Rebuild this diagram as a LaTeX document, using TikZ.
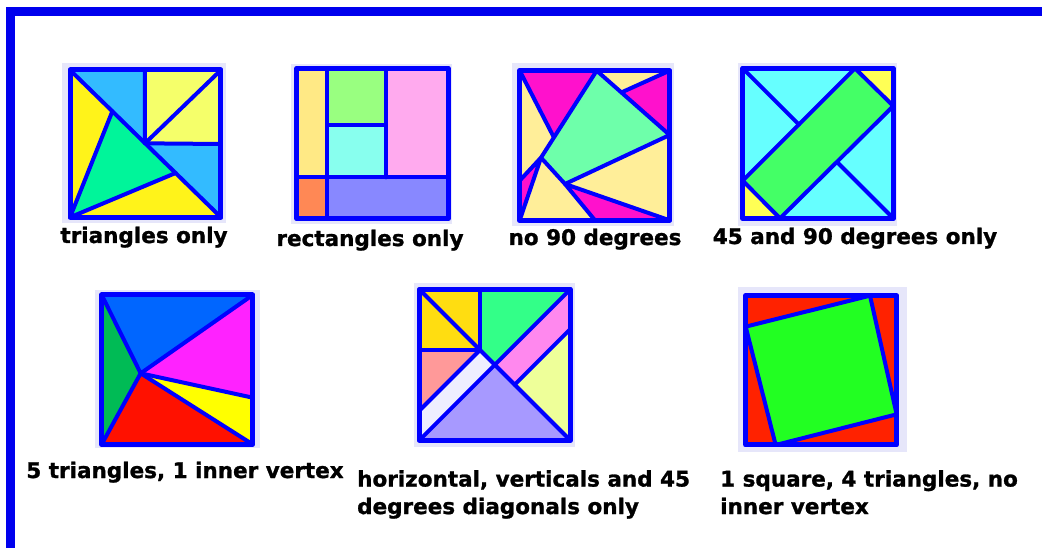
\documentclass[tikz,border=0pt]{standalone}
\usepackage{fontspec}
\setmainfont{DejaVu Sans}
\newfontfamily\labfont{DejaVu Sans}[BoldFeatures={FakeBold=1.2}]
\definecolor{framebar}{HTML}{0000EE}
\definecolor{sqblue}{HTML}{0000FF}
\definecolor{lav}{HTML}{E6E6FA}
% square 1
\definecolor{lblue}{HTML}{33BBFF}
\definecolor{pyellow}{HTML}{F5FF6A}
\definecolor{yelA}{HTML}{FFF31A}
\definecolor{grnA}{HTML}{00F59A}
% square 2
\definecolor{rYel}{HTML}{FFE985}
\definecolor{rGrn}{HTML}{99FF80}
\definecolor{rPink}{HTML}{FFAAEE}
\definecolor{rCyan}{HTML}{88FFEE}
\definecolor{rOrange}{HTML}{FF8855}
\definecolor{rPeri}{HTML}{8888FF}
% square 3
\definecolor{nMag}{HTML}{FF11CC}
\definecolor{nYel}{HTML}{FFEE99}
\definecolor{nGrn}{HTML}{6EFFAA}
% square 4
\definecolor{fCyan}{HTML}{66FFFF}
\definecolor{fGrn}{HTML}{44FF66}
\definecolor{fYel}{HTML}{FFFF55}
% square 5
\definecolor{tBlue}{HTML}{0066FF}
\definecolor{tGrn}{HTML}{00BB55}
\definecolor{tMag}{HTML}{FF22FF}
\definecolor{tYel}{HTML}{FFFF00}
\definecolor{tRed}{HTML}{FF1100}
% square 6
\definecolor{hGold}{HTML}{FFDD11}
\definecolor{hGrn}{HTML}{33FF88}
\definecolor{hSalmon}{HTML}{FF9999}
\definecolor{hWhite}{HTML}{EEEEFF}
\definecolor{hPurple}{HTML}{A799FF}
\definecolor{hPink}{HTML}{FF88EE}
\definecolor{hLyg}{HTML}{EEFF99}
% square 7
\definecolor{qRed}{HTML}{FF2200}
\definecolor{qGrn}{HTML}{22FF22}
\begin{document}
\begin{tikzpicture}[x=1pt,y=-1pt,line join=round,line cap=round,
  edge/.style={draw=sqblue,line width=4pt},
  frame/.style={draw=sqblue,line width=5pt},
  lab/.style={font=\labfont\bfseries\fontsize{21.5}{27}\selectfont,inner sep=0pt,anchor=base},
  labml/.style={font=\labfont\bfseries\fontsize{21.5}{27.5}\selectfont,inner sep=0pt,align=left,anchor=north west}]
\useasboundingbox (0,0) rectangle (1042,548);
\fill[white] (0,0) rectangle (1042,548);
\fill[framebar] (6,7) rectangle (1042,16);
\fill[framebar] (6,7) rectangle (15,548);

% ---------- square 1: triangles only
\begin{scope}[shift={(55,60)},scale=0.33333]
\fill[lav] (20,10) rectangle (512,490);
\coordinate (TL) at (45,30); \coordinate (TR) at (498,30);
\coordinate (BR) at (498,472); \coordinate (BL) at (45,472);
\coordinate (T) at (270,30); \coordinate (C) at (270,250);
\coordinate (R) at (498,252);
\coordinate (P1) at (172,154); \coordinate (P2) at (362,339);
\fill[lblue] (TL) -- (T) -- (C) -- cycle;
\fill[pyellow] (T) -- (TR) -- (R) -- (C) -- cycle;
\fill[lblue] (C) -- (R) -- (BR) -- cycle;
\fill[yelA] (TL) -- (P1) -- (BL) -- cycle;
\fill[yelA] (BL) -- (P2) -- (BR) -- cycle;
\fill[grnA] (P1) -- (P2) -- (BL) -- cycle;
\draw[edge] (T) -- (C) -- (R);
\draw[edge] (TR) -- (C);
\draw[edge] (TL) -- (BR);
\draw[edge] (P1) -- (BL) -- (P2);
\draw[frame] (TL) rectangle (BR);
\end{scope}
\node[lab] (l1) at (144,243) {triangles only};

% ---------- square 2: rectangles only
\begin{scope}[shift={(285,60)},scale=0.33333]
\fill[lav] (18,12) rectangle (500,492);
\fill[rYel] (35,25) rectangle (126,352);
\fill[rGrn] (126,25) rectangle (303,195);
\fill[rCyan] (126,195) rectangle (303,352);
\fill[rPink] (303,25) rectangle (490,352);
\fill[rOrange] (35,352) rectangle (126,476);
\fill[rPeri] (126,352) rectangle (490,476);
\draw[edge] (126,25) -- (126,476);
\draw[edge] (303,25) -- (303,352);
\draw[edge] (35,352) -- (490,352);
\draw[edge] (126,195) -- (303,195);
\draw[frame] (35,25) rectangle (490,476);
\end{scope}
\node[lab] (l2) at (370,246) {rectangles only};

% ---------- square 3: no 90 degrees
\begin{scope}[shift={(505,60)},scale=0.33333]
\fill[lav] (20,10) rectangle (507,497);
\coordinate (TL) at (44,32); \coordinate (TR) at (494,32);
\coordinate (BR) at (494,481); \coordinate (BL) at (44,481);
\coordinate (A) at (275,32); \coordinate (B) at (494,225);
\coordinate (C) at (180,372); \coordinate (D) at (108,293);
\coordinate (E) at (146,231); \coordinate (H) at (350,97);
\coordinate (L) at (44,362); \coordinate (G) at (270,481);
\fill[nMag] (TL) -- (A) -- (E) -- cycle;
\fill[nYel] (TL) -- (E) -- (D) -- (L) -- cycle;
\fill[nMag] (L) -- (D) -- (BL) -- cycle;
\fill[nYel] (BL) -- (D) -- (C) -- (G) -- cycle;
\fill[nMag] (G) -- (C) -- (BR) -- cycle;
\fill[nYel] (C) -- (B) -- (BR) -- cycle;
\fill[nGrn] (A) -- (B) -- (C) -- (D) -- cycle;
\fill[nYel] (A) -- (TR) -- (H) -- cycle;
\fill[nMag] (H) -- (TR) -- (B) -- cycle;
\draw[edge] (A) -- (B) -- (C) -- (D) -- cycle;
\draw[edge] (TL) -- (E);
\draw[edge] (L) -- (D) -- (BL);
\draw[edge] (G) -- (C) -- (BR);
\draw[edge] (H) -- (TR);
\draw[frame] (TL) rectangle (BR);
\end{scope}
\node[lab] (l3) at (595,245) {no 90 degrees};

% ---------- square 4: 45 and 90 degrees only
\begin{scope}[shift={(730,60)},scale=0.33333]
\fill[lav] (25,10) rectangle (500,497);
\coordinate (TL) at (38,25); \coordinate (TR) at (490,25);
\coordinate (BR) at (490,475); \coordinate (BL) at (38,475);
\coordinate (Gt) at (375,25); \coordinate (Gr) at (490,138);
\coordinate (Gb) at (150,475); \coordinate (Gl) at (38,362);
\coordinate (K1) at (206.5,193.5); \coordinate (K2) at (321.5,306.5);
\fill[fCyan] (TL) rectangle (BR);
\fill[fYel] (Gt) -- (TR) -- (Gr) -- cycle;
\fill[fYel] (Gl) -- (Gb) -- (BL) -- cycle;
\fill[fGrn] (Gt) -- (Gr) -- (Gb) -- (Gl) -- cycle;
\draw[edge] (Gt) -- (Gr) -- (Gb) -- (Gl) -- cycle;
\draw[edge] (TL) -- (K1);
\draw[edge] (K2) -- (BR);
\draw[frame] (TL) rectangle (BR);
\end{scope}
\node[lab] (l4) at (855,244) {45 and 90 degrees only};

% ---------- square 5: 5 triangles, 1 inner vertex
\begin{scope}[shift={(90,285)},scale=0.33333]
\fill[lav] (15,15) rectangle (510,490);
\coordinate (TL) at (35,30); \coordinate (TR) at (488,30);
\coordinate (BR) at (488,478); \coordinate (BL) at (35,478);
\coordinate (V) at (152,265); \coordinate (R) at (488,338);
\fill[tBlue] (TL) -- (TR) -- (V) -- cycle;
\fill[tGrn] (TL) -- (V) -- (BL) -- cycle;
\fill[tMag] (V) -- (TR) -- (R) -- cycle;
\fill[tYel] (V) -- (R) -- (BR) -- cycle;
\fill[tRed] (V) -- (BR) -- (BL) -- cycle;
\draw[edge] (TL) -- (V) -- (TR);
\draw[edge] (BL) -- (V) -- (BR);
\draw[edge] (V) -- (R);
\draw[frame] (TL) rectangle (BR);
\end{scope}
\node[lab] (l5) at (185,478) {5 triangles, 1 inner vertex};

% ---------- square 6: horizontal, verticals and 45 degrees diagonals only
\begin{scope}[shift={(410,280)},scale=0.33333]
\fill[lav] (12,8) rectangle (495,502);
\coordinate (TL) at (28,28); \coordinate (TR) at (481,28);
\coordinate (BR) at (481,481); \coordinate (BL) at (28,481);
\coordinate (C) at (254.5,254.5); \coordinate (J) at (210,210);
\coordinate (Jt) at (210,28); \coordinate (Jl) at (28,210);
\coordinate (W1) at (28,392);
\coordinate (W2a) at (314,314); \coordinate (W2b) at (481,147);
\fill[hGold] (TL) -- (Jt) -- (J) -- (Jl) -- cycle;
\fill[hGrn] (Jt) -- (TR) -- (C) -- (J) -- cycle;
\fill[hSalmon] (Jl) -- (J) -- (W1) -- cycle;
\fill[hWhite] (J) -- (C) -- (BL) -- (W1) -- cycle;
\fill[hPurple] (C) -- (BR) -- (BL) -- cycle;
\fill[hPink] (C) -- (TR) -- (W2b) -- (W2a) -- cycle;
\fill[hLyg] (W2a) -- (W2b) -- (BR) -- cycle;
\draw[edge] (TL) -- (BR);
\draw[edge] (TR) -- (BL);
\draw[edge] (Jt) -- (J) -- (Jl);
\draw[edge] (J) -- (W1);
\draw[edge] (W2a) -- (W2b);
\draw[frame] (TL) rectangle (BR);
\end{scope}
\node[labml] (l6) at (357,470) {horizontal, verticals and 45\\degrees diagonals only};

% ---------- square 7: 1 square, 4 triangles, no inner vertex
\begin{scope}[shift={(735,285)},scale=0.33333]
\fill[lav] (10,5) rectangle (515,500);
\coordinate (TL) at (32,32); \coordinate (BR) at (485,480);
\coordinate (Gt) at (405,32); \coordinate (Gr) at (485,388);
\coordinate (Gb) at (122,480); \coordinate (Gl) at (32,125);
\fill[qRed] (TL) rectangle (BR);
\fill[qGrn] (Gt) -- (Gr) -- (Gb) -- (Gl) -- cycle;
\draw[edge] (Gt) -- (Gr) -- (Gb) -- (Gl) -- cycle;
\draw[frame] (TL) rectangle (BR);
\end{scope}
\node[labml] (l7) at (720,470) {1 square, 4 triangles, no\\inner vertex};
\end{tikzpicture}
\end{document}
